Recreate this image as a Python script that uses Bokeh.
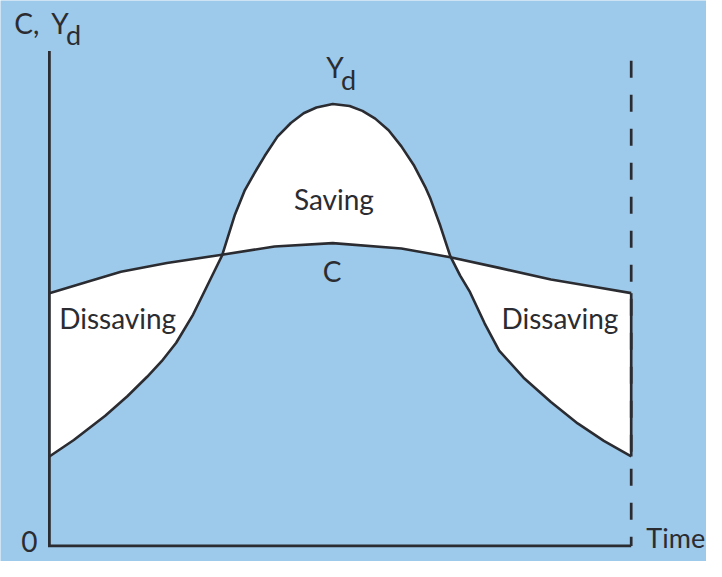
from bokeh.plotting import figure
from bokeh.models import Range1d
from bokeh.core.properties import value
from bokeh.embed import file_html
from bokeh.resources import INLINE

# ---- data (time 0..100, income/consumption in arbitrary units) ----
yd_time = [0, 4.2, 9.6, 13.4, 16.8, 19.3, 21.8, 24.7, 27.4, 29.7, 31.9, 33.6, 35.3,
           37.0, 39.2, 41.5, 43.7, 45.9, 48.7, 51.6, 53.8, 56.0, 58.3, 60.5, 62.7,
           64.7, 65.5, 67.2, 68.9, 70.6, 72.3, 74.8, 77.3, 81.5, 86.2, 90.8, 95.3, 100]
yd_vals = [18.4, 21.8, 26.8, 30.8, 34.8, 38.0, 41.8, 47.6, 54.2, 59.8, 68.2, 73.2, 76.8,
           80.2, 84.2, 87.0, 89.0, 90.2, 90.9, 90.5, 89.5, 87.9, 85.5, 82.2, 78.2,
           73.6, 71.4, 65.8, 59.6, 55.6, 52.2, 45.8, 40.2, 34.6, 29.6, 25.2, 21.6, 18.4]
c_time = [0, 6.7, 12.3, 20.2, 29.1, 38.7, 48.7, 60.5, 68.9, 77.3, 86.2, 94.1, 100]
c_vals = [52.0, 54.4, 56.4, 58.2, 59.8, 61.6, 62.3, 61.2, 59.4, 57.2, 54.8, 53.2, 52.0]

BG = "#9DC9EA"
INK = "#2b2c31"
FONT = value("Lato")

p = figure(width=706, height=561,
           x_range=Range1d(-8.403, 112.941), y_range=Range1d(-3.2, 112.2),
           x_axis_type=None, y_axis_type=None,
           output_backend="svg", toolbar_location=None, min_border=0,
           background_fill_color=BG, border_fill_color=BG, outline_line_color=None)
p.grid.visible = False

# white area between the curves
p.patch(c_time + yd_time[::-1], c_vals + yd_vals[::-1],
        fill_color="white", line_color=None)

# curves
p.line(c_time, c_vals, line_color=INK, line_width=2.6, line_join="round")
p.line(yd_time, yd_vals, line_color=INK, line_width=2.6, line_join="round")

# end-of-life marker: dashed line, solid between the curves
end_t = c_time[-1]
p.line([end_t, end_t], [99.8, 0], line_color=INK, line_width=2.7, line_dash="17 17")
p.line([end_t, end_t], [c_vals[-1], yd_vals[-1]], line_color=INK, line_width=2.7)

# axes
p.line([0, 0, end_t], [101.8, 0, 0], line_color=INK, line_width=2.8, line_join="miter")

LIFT = 2.1  # compensates the renderer's baseline offset

def label(x, y, t, size="28px", align="left"):
    p.text(x=[x], y=[y + LIFT], text=[t], text_font=FONT, text_font_size=size,
           text_color=INK, text_align=align, text_baseline="alphabetic")

label(-6.05, 105.4, "C,")
label(0.34, 105.4, "Y")
label(2.86, 103.2, "d", size="27px")
label(47.6, 96.4, "Y")
label(50.1, 93.8, "d", size="27px")
label(48.9, 69.2, "Saving", align="center")
label(48.6, 54.4, "C", align="center")
label(1.68, 44.8, "Dissaving")
label(97.8, 44.8, "Dissaving", align="right")
label(-3.45, -1.2, "0", align="center")
label(102.6, -0.4, "Time", size="27px")

open("out.html", "w").write(file_html(p, INLINE))
